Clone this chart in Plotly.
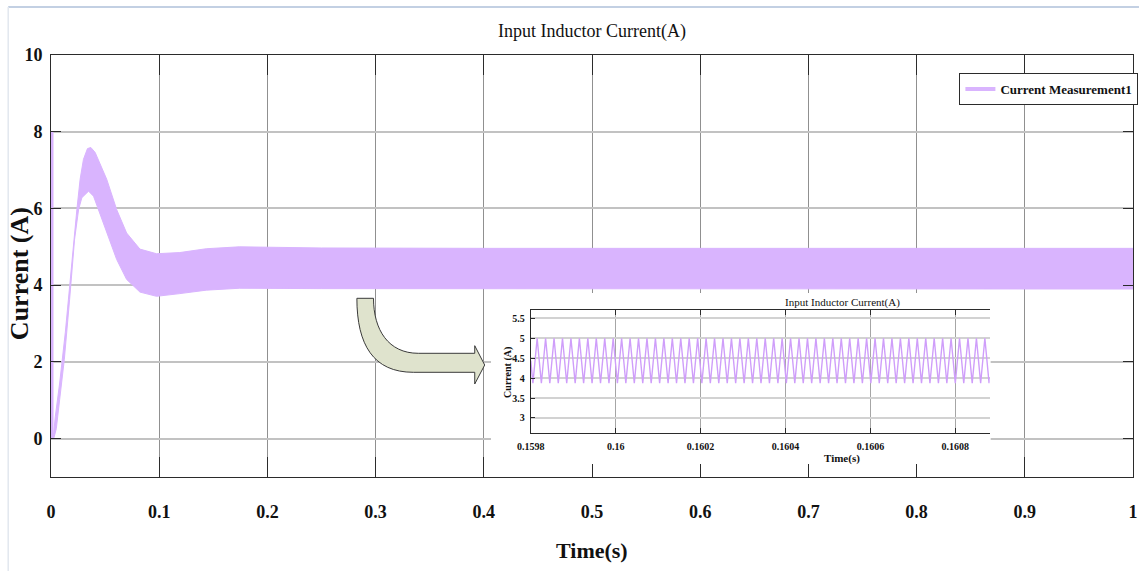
import plotly.graph_objects as go

# ---------------- data ----------------
# main plot: envelope of the fast-switching inductor current (A) vs time (s)
band_upper_t = [0.0009, 0.0025, 0.004, 0.008, 0.0132, 0.0172, 0.0208, 0.0239, 0.0269, 0.030,
                0.0337, 0.0368, 0.0408, 0.0454, 0.0515, 0.0607, 0.0699, 0.0822, 0.0975,
                0.119, 0.1435, 0.174, 0.25, 0.4, 0.6, 0.8, 1.0]
band_upper_i = [0.0, 0.15, 0.58, 1.45, 2.76, 3.97, 5.20, 5.97, 6.76, 7.28,
                7.56, 7.59, 7.46, 7.15, 6.76, 5.97, 5.36, 4.94, 4.82,
                4.85, 4.95, 5.0, 4.97, 4.96, 4.96, 4.96, 4.96]
band_lower_t = [0.0025, 0.0049, 0.008, 0.0123, 0.0147, 0.0172, 0.0218, 0.0255, 0.0285, 0.0347,
                0.0393, 0.0454, 0.0515, 0.0607, 0.0699, 0.0822, 0.0975, 0.119, 0.1435,
                0.174, 0.25, 0.4, 0.6, 0.8, 1.0]
band_lower_i = [0.0, 0.26, 1.02, 2.06, 2.76, 3.63, 5.20, 5.97, 6.28, 6.45,
                6.32, 5.89, 5.37, 4.67, 4.15, 3.82, 3.71, 3.78, 3.87,
                3.92, 3.91, 3.9, 3.9, 3.9, 3.9]
spike_t = [0.0, 0.0]
spike_i = [0.0, 8.0]

x_ticks = [0, 0.1, 0.2, 0.3, 0.4, 0.5, 0.6, 0.7, 0.8, 0.9, 1]
y_ticks = [0, 2, 4, 6, 8, 10]

# inset: zoomed switching ripple, times in microseconds after 0.1598 s
inset_origin_s = 0.1598
inset_start_us, inset_start_i = 0.0, 4.44
inset_end_us, inset_end_i = 1081.0, 4.02
inset_peak_i = 5.0
inset_valley_i = 3.87
inset_valleys_us = [5.05, 24.95, 44.85, 64.75, 84.65, 104.55, 124.45, 144.35, 164.25, 184.15,
                    204.05, 223.95, 243.85, 263.75, 283.65, 303.55, 323.45, 343.35, 363.25, 383.15,
                    403.05, 422.95, 442.85, 462.75, 482.65, 502.55, 522.45, 542.35, 562.25, 582.15,
                    602.05, 621.95, 641.85, 661.75, 681.65, 701.55, 721.45, 741.35, 761.25, 781.15,
                    801.05, 820.95, 840.85, 860.75, 880.65, 900.55, 920.45, 940.35, 960.25, 980.15,
                    1000.05, 1019.95, 1039.85, 1059.75, 1079.65]
inset_peaks_us = [15.0, 34.9, 54.8, 74.7, 94.6, 114.5, 134.4, 154.3, 174.2, 194.1,
                  214.0, 233.9, 253.8, 273.7, 293.6, 313.5, 333.4, 353.3, 373.2, 393.1,
                  413.0, 432.9, 452.8, 472.7, 492.6, 512.5, 532.4, 552.3, 572.2, 592.1,
                  612.0, 631.9, 651.8, 671.7, 691.6, 711.5, 731.4, 751.3, 771.2, 791.1,
                  811.0, 830.9, 850.8, 870.7, 890.6, 910.5, 930.4, 950.3, 970.2, 990.1,
                  1010.0, 1029.9, 1049.8, 1069.7]
inset_x_ticks = [0.1598, 0.16, 0.1602, 0.1604, 0.1606, 0.1608]
inset_x_labels = ["0.1598", "0.16", "0.1602", "0.1604", "0.1606", "0.1608"]
inset_y_ticks = [3, 3.5, 4, 4.5, 5, 5.5]
inset_y_labels = ["3", "3.5", "4", "4.5", "5", "5.5"]
inset_x_range = [0.1598, 0.160881]
inset_y_range = [2.63, 5.71]

# ---------------- geometry / style ----------------
W, H = 1144, 571
PL, PR, PT, PB = 51, 1138, 55, 477          # main plot area in pixels
FONT = "Liberation Serif"
BAND = "#D9B4FE"
WAVE = "#CF9EFA"
AX = "#2b2b2b"


def px(x):
    return (x - PL) / (PR - PL)


def py(y):
    return (PB - y) / (PB - PT)


# build series
band_x = band_upper_t + band_lower_t[::-1]
band_y = band_upper_i + band_lower_i[::-1]

inset_t = [inset_origin_s + inset_start_us * 1e-6]
inset_i = [inset_start_i]
for k, v in enumerate(inset_valleys_us):
    inset_t.append(inset_origin_s + v * 1e-6)
    inset_i.append(inset_valley_i)
    if k < len(inset_peaks_us):
        inset_t.append(inset_origin_s + inset_peaks_us[k] * 1e-6)
        inset_i.append(inset_peak_i)
inset_t.append(inset_origin_s + inset_end_us * 1e-6)
inset_i.append(inset_end_i)

fig = go.Figure()
fig.add_trace(go.Scatter(x=band_x, y=band_y, mode="lines", fill="toself",
                         fillcolor=BAND, line=dict(color=BAND, width=1),
                         showlegend=False, hoverinfo="skip"))
fig.add_trace(go.Scatter(x=spike_t, y=spike_i, mode="lines",
                         line=dict(color=BAND, width=5),
                         showlegend=False, hoverinfo="skip"))
fig.add_trace(go.Scatter(x=[None], y=[None], mode="lines", name="Current Measurement1",
                         line=dict(color=BAND, width=4)))
# blank card behind the inset (covers the main grid)
fig.add_trace(go.Scatter(x=[None], y=[None], xaxis="x2", yaxis="y2",
                         showlegend=False, hoverinfo="skip"))
# inset waveform
fig.add_trace(go.Scatter(x=inset_t, y=inset_i, xaxis="x3", yaxis="y3", mode="lines",
                         line=dict(color=WAVE, width=1.4),
                         showlegend=False, hoverinfo="skip"))

tickfont = dict(family=FONT, size=18, color="#111", weight="bold")
small_tick = dict(family=FONT, size=10, color="#111", weight="bold")

fig.update_layout(
    width=W, height=H, autosize=False,
    margin=dict(l=PL, r=W - PR, t=PT, b=H - PB, pad=0),
    paper_bgcolor="white", plot_bgcolor="white",
    title=dict(text="Input Inductor Current(A)", x=0.5, xref="paper", xanchor="center",
               y=1 - 31 / H, yref="container", yanchor="middle",
               font=dict(family=FONT, size=18, color="#111")),
    xaxis=dict(range=[0, 1], tickvals=x_ticks, showline=True, linecolor=AX, linewidth=1,
               mirror="ticks", ticks="inside", ticklen=20, tickcolor=AX, tickwidth=1,
               showgrid=True, gridcolor="#909090", gridwidth=1, zeroline=False,
               tickfont=tickfont, ticklabelstandoff=18),
    yaxis=dict(range=[-1, 10], tickvals=y_ticks, showline=True, linecolor=AX, linewidth=1,
               mirror="ticks", ticks="inside", ticklen=10, tickcolor=AX, tickwidth=1,
               showgrid=True, gridcolor="#c2c2c2", gridwidth=2, zeroline=False,
               tickfont=tickfont, ticklabelstandoff=4),
    xaxis2=dict(domain=[px(493), px(995)], anchor="y2", visible=False, range=[0, 1]),
    yaxis2=dict(domain=[py(464), py(293)], anchor="x2", visible=False, range=[0, 1]),
    xaxis3=dict(domain=[px(533), px(994)], anchor="y3", range=inset_x_range,
                tickvals=inset_x_ticks, ticktext=inset_x_labels,
                showline=True, linecolor=AX, linewidth=1, mirror="ticks",
                ticks="inside", ticklen=5, tickcolor=AX,
                showgrid=True, gridcolor="#a6a6a6", gridwidth=1, zeroline=False,
                tickfont=small_tick, ticklabelstandoff=4),
    yaxis3=dict(domain=[py(432.7), py(310)], anchor="x3", range=inset_y_range,
                tickvals=inset_y_ticks, ticktext=inset_y_labels,
                showline=True, linecolor=AX, linewidth=1, mirror=False,
                ticks="inside", ticklen=4, tickcolor=AX,
                showgrid=True, gridcolor="#d2d2d2", gridwidth=2, zeroline=False,
                tickfont=small_tick, ticklabelstandoff=3),
    legend=dict(x=1.005, xanchor="right", y=py(73), yanchor="top",
                bgcolor="white", bordercolor=AX, borderwidth=1,
                font=dict(family=FONT, size=13, color="#111", weight="bold"),
                itemwidth=30),
)

annotations = [
    dict(text="Time(s)", x=px(594), y=py(550), font=dict(family=FONT, size=22, color="#111", weight="bold")),
    dict(text="Current (A)", x=px(19), y=py(274), textangle=-90,
         font=dict(family=FONT, size=26, color="#111", weight="bold")),
    dict(text="Input Inductor Current(A)", x=px(846), y=py(302.5),
         font=dict(family=FONT, size=11, color="#111")),
    dict(text="Current (A)", x=px(510), y=py(372), textangle=-90,
         font=dict(family=FONT, size=10, color="#111", weight="bold")),
    dict(text="Time(s)", x=px(846), y=py(458.5),
         font=dict(family=FONT, size=11, color="#111", weight="bold")),
]
for a in annotations:
    a.update(xref="paper", yref="paper", showarrow=False, xanchor="center", yanchor="middle")
fig.update_layout(annotations=annotations)


# curved pointer arrow from the main trace to the inset
def P(x, y):
    return f"{px(x):.5f},{py(y):.5f}"


arrow_path = (f"M {P(358.3, 298.3)} C {P(358.3, 345)} {P(375, 372.3)} {P(415, 372.3)} "
              f"L {P(476.7, 372.3)} L {P(476.7, 384)} L {P(486.7, 365)} L {P(476.7, 345.7)} "
              f"L {P(476.7, 353.3)} L {P(420, 353.3)} "
              f"C {P(390, 353.3)} {P(375, 330)} {P(375, 298.3)} Z")
fig.add_shape(type="path", path=arrow_path, xref="paper", yref="paper", layer="above",
              fillcolor="#dfe3cd", line=dict(color="#3a3a3a", width=1))
# faint screenshot frame lines
fig.add_shape(type="line", xref="paper", yref="paper", x0=px(8), x1=px(1144), y0=py(7), y1=py(7),
              line=dict(color="#c3d0e3", width=2), layer="above")
fig.add_shape(type="line", xref="paper", yref="paper", x0=px(8), x1=px(8), y0=py(7), y1=py(571),
              line=dict(color="#e2e7ef", width=1.5), layer="above")

fig.write_html("out.html", config={"displayModeBar": False},
               post_script="document.body.style.margin='0px';")
